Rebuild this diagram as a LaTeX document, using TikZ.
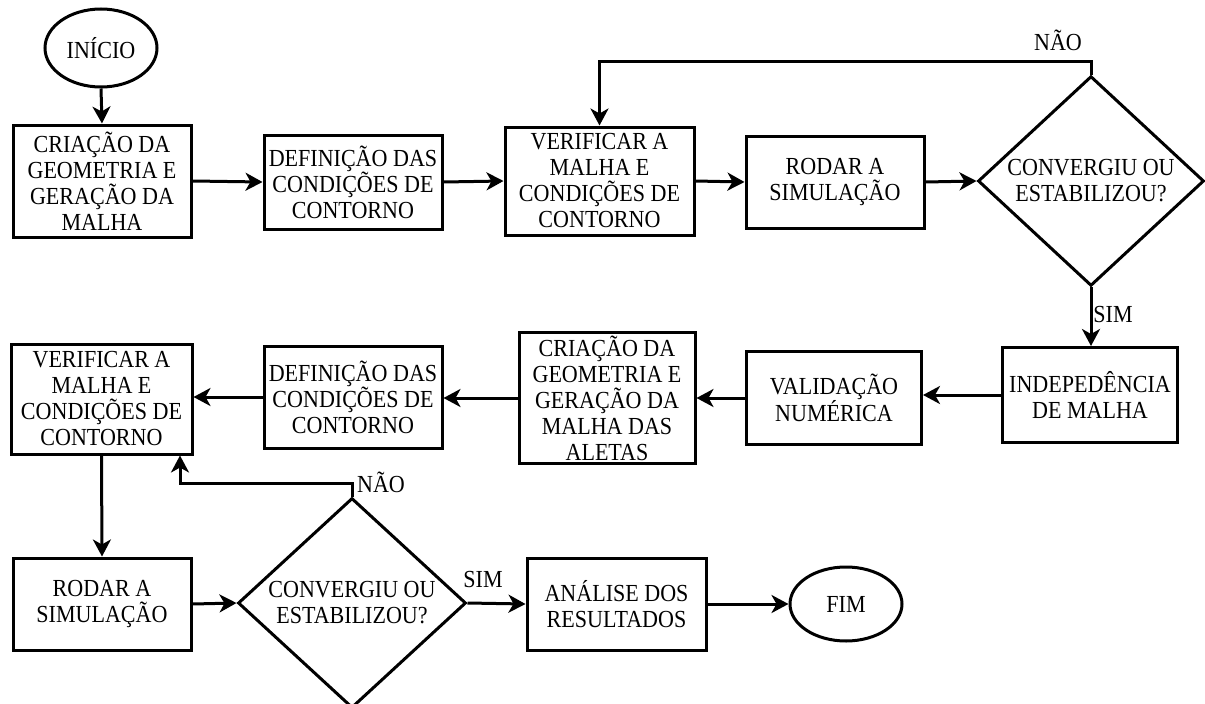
\documentclass[tikz,border=0pt]{standalone}
\usepackage{fontspec}
\setmainfont{Liberation Serif}[FakeStretch=0.9]
\usetikzlibrary{shapes.geometric,arrows.meta}
\begin{document}
\begin{tikzpicture}[x=1pt,y=-1pt,
  every node/.style={font=\fontsize{24.5}{26}\selectfont, align=center, inner sep=0pt},
  proc/.style={draw, line width=3pt, rectangle},
  term/.style={draw, line width=3pt, ellipse},
  decide/.style={draw, line width=3pt, diamond},
  flow/.style={line width=3pt, -{Stealth[length=17pt,width=18pt,inset=5pt]}},
  lbl/.style={font=\fontsize{24.5}{26}\selectfont}
]
\useasboundingbox (0,0) rectangle (1205,704);

% first row
\node[term, minimum width=112pt, minimum height=78pt] (ini) at (101,48) {INÍCIO};
\node[proc, minimum width=178pt, minimum height=112pt] (b1) at (102,181) {CRIAÇÃO DA\\GEOMETRIA E\\GERAÇÃO DA\\MALHA};
\node[proc, minimum width=178pt, minimum height=94pt] (b2) at (353,182) {DEFINIÇÃO DAS\\CONDIÇÕES DE\\CONTORNO};
\node[proc, minimum width=189pt, minimum height=108pt] (b3) at (599.5,181) {VERIFICAR A\\MALHA E\\CONDIÇÕES DE\\CONTORNO};
\node[proc, minimum width=178pt, minimum height=92pt] (b4) at (835,182) {RODAR A\\SIMULAÇÃO};
\node[decide, minimum width=226pt, minimum height=204pt] (d1) at (1091,181) {CONVERGIU OU\\ESTABILIZOU?};
\node[lbl] (nao1) at (1058,40) {NÃO};
\node[lbl] (sim1) at (1113,315) {SIM};

% second row
\node[proc, minimum width=175pt, minimum height=95pt] (b5) at (1090,395) {INDEPEDÊNCIA\\DE MALHA};
\node[proc, minimum width=175pt, minimum height=93pt] (b6) at (834,398) {VALIDAÇÃO\\NUMÉRICA};
\node[proc, minimum width=176pt, minimum height=131pt] (b7) at (607,398) {CRIAÇÃO DA\\GEOMETRIA E\\GERAÇÃO DA\\MALHA DAS\\ALETAS};
\node[proc, minimum width=178pt, minimum height=102pt] (b8) at (353,397) {DEFINIÇÃO DAS\\CONDIÇÕES DE\\CONTORNO};
\node[proc, minimum width=181pt, minimum height=110pt] (b9) at (101.5,399) {VERIFICAR A\\MALHA E\\CONDIÇÕES DE\\CONTORNO};

% third row
\node[proc, minimum width=178pt, minimum height=92pt] (b10) at (102,604) {RODAR A\\SIMULAÇÃO};
\node[decide, minimum width=228pt, minimum height=210pt] (d2) at (352,603) {CONVERGIU OU\\ESTABILIZOU?};
\node[lbl] (nao2) at (381,482) {NÃO};
\node[lbl] (sim2) at (483,580) {SIM};
\node[proc, minimum width=179pt, minimum height=92pt] (b11) at (616.5,604) {ANÁLISE DOS\\RESULTADOS};
\node[term, minimum width=112pt, minimum height=74pt] (fim) at (846,604) {FIM};

\coordinate (loopA) at (1091,61);
\coordinate (loopB) at (599.5,61);
\coordinate (loopC) at (352,483);
\coordinate (loopD) at (180,483);

% connectors
\draw[flow] (ini.south) -- (b1.north);
\draw[flow] (b1.east) -- (b2.west);
\draw[flow] (b2.east) -- (b3.west);
\draw[flow] (b3.east) -- (b4.west);
\draw[flow] (b4.east) -- (d1.west);
\draw[flow] (d1.north) -- (loopA) -- (loopB) -- (b3.north);
\draw[flow] (d1.south) -- (d1.south |- b5.north);
\draw[flow] (b5.west) -- (b5.west -| b6.east);
\draw[flow] (b6.west) -- (b6.west -| b7.east);
\draw[flow] (b7.west) -- (b7.west -| b8.east);
\draw[flow] (b8.west) -- (b8.west -| b9.east);
\draw[flow] (b9.south) -- (b10.north);
\draw[flow] (d2.north) -- (loopC) -- (loopD) -- (loopD |- b9.south);
\draw[flow] (b10.east) -- (d2.west);
\draw[flow] (d2.east) -- (b11.west);
\draw[flow] (b11.east) -- (fim.west);
\end{tikzpicture}
\end{document}
